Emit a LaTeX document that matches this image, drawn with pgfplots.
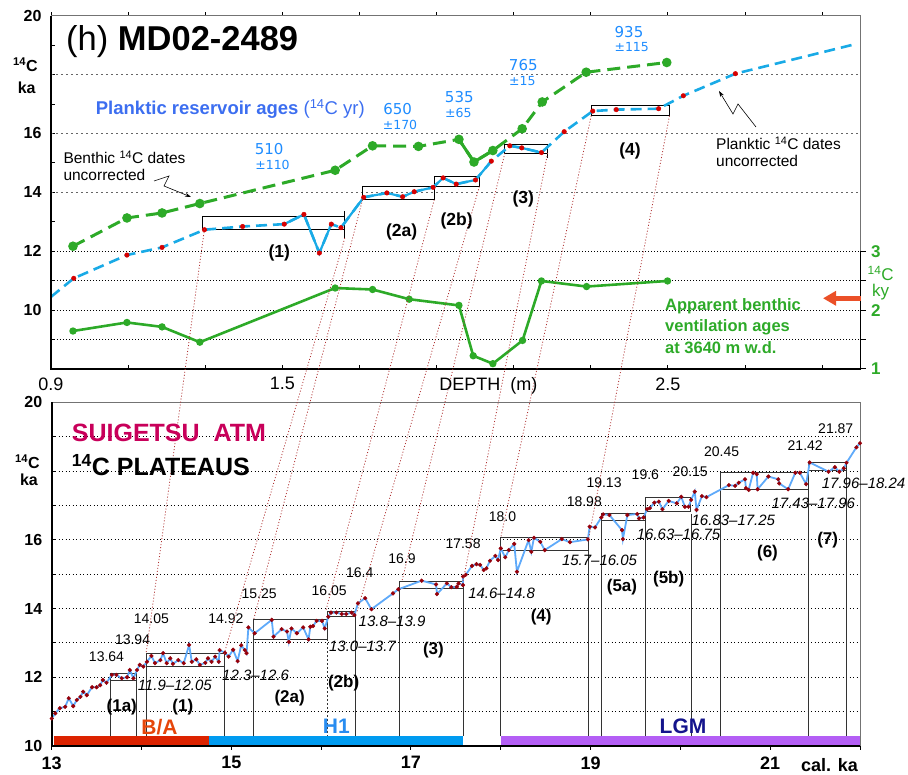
\documentclass[border=0pt]{standalone}
\usepackage{fontspec}
\setmainfont{Liberation Sans}
\newfontfamily\dv{DejaVu Sans}
\usepackage{pgfplots}
\usepackage{pgfplotstable}
\pgfplotsset{compat=1.18}
\usetikzlibrary{arrows.meta}
\newcommand{\fs}[1]{\fontsize{#1}{#1}\selectfont}
\definecolor{blueT}{RGB}{25,170,230}
\definecolor{greenT}{RGB}{45,170,40}
\definecolor{redD}{RGB}{215,0,0}
\definecolor{lineB}{RGB}{95,170,250}
\definecolor{dotB}{RGB}{150,0,10}
\definecolor{resvB}{RGB}{30,140,255}
\definecolor{plankB}{RGB}{60,110,240}
\definecolor{suiM}{RGB}{200,0,90}
\definecolor{connR}{RGB}{175,50,50}
\definecolor{barR}{RGB}{220,35,0}
\definecolor{barB}{RGB}{0,155,240}
\definecolor{barP}{RGB}{180,95,245}
\definecolor{txtBA}{RGB}{230,70,10}
\definecolor{txtH}{RGB}{40,140,240}
\definecolor{txtL}{RGB}{20,20,140}
\definecolor{arrO}{RGB}{235,80,40}

\pgfplotstableread{
x y
13.00 10.80
13.04 10.95
13.09 11.10
13.15 11.14
13.19 11.39
13.24 11.16
13.28 11.34
13.32 11.43
13.35 11.58
13.39 11.48
13.45 11.71
13.50 11.71
13.54 11.77
13.57 11.92
13.61 11.84
13.67 12.07
13.72 12.07
13.78 11.97
13.84 12.00
13.87 12.21
13.91 11.97
13.95 12.21
13.98 12.36
14.02 12.31
14.06 12.45
14.11 12.62
14.15 12.41
14.21 12.50
14.24 12.70
14.28 12.41
14.32 12.55
14.35 12.39
14.41 12.50
14.47 12.41
14.53 12.94
14.56 12.45
14.61 12.52
14.65 12.36
14.71 12.42
14.74 12.55
14.78 12.45
14.82 12.60
14.86 12.45
14.87 12.79
14.93 12.71
14.97 12.60
15.02 12.80
15.07 12.47
15.11 12.93
15.15 12.79
15.17 12.70
15.19 13.45
15.26 13.28
15.45 13.67
15.47 13.18
15.56 13.40
15.62 13.33
15.64 13.03
15.67 13.42
15.73 13.28
15.80 13.45
15.86 13.10
15.88 13.47
15.91 13.49
15.95 13.64
16.01 13.64
16.04 13.42
16.08 13.76
16.11 13.88
16.17 13.88
16.23 13.84
16.28 13.84
16.34 13.88
16.37 13.81
16.41 14.15
16.49 14.30
16.56 13.98
16.80 14.44
16.86 14.56
17.12 14.81
17.28 14.70
17.29 14.42
17.40 14.73
17.45 14.62
17.51 14.63
17.53 14.73
17.58 14.68
17.58 14.93
17.61 14.98
17.68 15.24
17.73 15.29
17.77 15.27
17.81 15.12
17.84 15.17
17.88 15.39
17.94 15.53
17.97 15.41
18.00 15.75
18.05 15.49
18.09 15.70
18.15 15.88
18.18 15.07
18.31 15.99
18.34 15.65
18.37 16.06
18.44 15.94
18.49 15.70
18.68 16.02
18.77 15.93
18.97 16.01
18.99 16.38
19.05 16.36
19.12 16.65
19.14 16.74
19.21 16.72
19.35 16.28
19.36 16.02
19.41 16.72
19.52 16.75
19.54 16.62
19.59 16.65
19.63 16.89
19.66 16.92
19.71 17.08
19.76 17.11
19.80 16.89
19.87 17.13
19.96 17.06
20.01 17.25
20.05 16.96
20.09 16.96
20.12 17.16
20.16 17.40
20.18 16.87
20.24 17.27
20.29 17.24
20.54 17.59
20.61 17.57
20.65 17.66
20.72 17.76
20.73 17.50
20.76 17.45
20.81 17.95
20.85 17.91
20.86 17.47
20.98 17.84
21.09 17.76
21.10 17.64
21.20 17.47
21.28 17.95
21.33 17.95
21.40 17.62
21.44 18.25
21.65 17.98
21.72 18.11
21.77 17.98
21.82 18.08
21.85 18.24
21.96 18.69
22.00 18.81
}\caldata

\begin{document}
\begin{tikzpicture}
\useasboundingbox (0,0) rectangle (908pt,775pt);

%================ TOP PANEL (depth) =================
\begin{axis}[
  at={(51pt,406pt)}, anchor=south west, scale only axis,
  width=809.7pt, height=353.3pt,
  xmin=0.9, xmax=3.0, ymin=8, ymax=20,
  axis line style={draw=none},
  xtick={0.9,1.1,1.3,1.5,1.7,1.9,2.1,2.3,2.5,2.7,2.9},
  xticklabels={0.9,,,1.5,,,,,2.5,,},
  xtick pos=left, ytick pos=left,
  ytick={8,9,10,11,12,13,14,15,16,17,18,19,20},
  yticklabels={,,10,,12,,14,,16,,,,20},
  major tick length=4pt,
  tick style={black, line width=0.9pt},
  xticklabel style={font=\fs{18}, yshift=-5pt},
  yticklabel style={font=\fs{16}\bfseries, xshift=-6pt},
  /pgf/number format/assume math mode=true,
  clip=false,
]
% grid
\pgfplotsinvokeforeach{9,10,11,12}{
  \draw[black, line width=0.9pt, dash pattern=on 1pt off 2pt] (axis cs:0.9,#1) -- (axis cs:3.0,#1);}
\pgfplotsinvokeforeach{14,16,18}{
  \draw[black!60, line width=1.2pt, dash pattern=on 2pt off 3pt] (axis cs:0.9,#1) -- (axis cs:3.0,#1);}
% top ticks (outward)
\pgfplotsinvokeforeach{0.9,1.1,1.3,1.5,1.7,1.9,2.1,2.3,2.5,2.7,2.9}{
  \draw[black, line width=0.9pt] (axis cs:#1,20) -- (axis cs:#1,20.14);}
% boxes
\draw[black, line width=1pt] (axis cs:1.293,12.75) rectangle (axis cs:1.662,13.19);
\draw[black, line width=1pt] (axis cs:1.662,13.35) -- (axis cs:1.662,12.45);
\draw[black, line width=1pt] (axis cs:1.708,13.75) rectangle (axis cs:1.894,14.21);
\draw[black, line width=1pt] (axis cs:1.895,14.20) rectangle (axis cs:2.011,14.54);
\draw[black, line width=1pt] (axis cs:2.077,15.33) rectangle (axis cs:2.188,15.63);
\draw[black, line width=1pt] (axis cs:2.188,15.33) -- (axis cs:2.188,15.15);
\draw[black, line width=1pt] (axis cs:2.301,16.60) rectangle (axis cs:2.504,16.96);
% benthic uncorrected (green dashed)
\addplot[greenT, line width=3pt, dash pattern=on 13pt off 7pt, mark=*, mark size=3.2pt, mark options={solid}] coordinates {
(0.957,12.17)(1.097,13.13)(1.188,13.30)(1.286,13.62)(1.637,14.75)(1.734,15.58)(1.853,15.56)(1.958,15.80)(1.997,15.03)(2.046,15.42)(2.122,16.16)(2.174,17.07)(2.288,18.08)(2.497,18.41)};
\addplot[greenT, line width=3pt] coordinates {(1.958,15.80)(1.997,15.03)(2.046,15.42)};
% planktic (blue dashed)
\addplot[blueT, line width=2.6pt, dash pattern=on 11pt off 6pt] coordinates {
(0.90,10.45)(0.959,11.08)(1.097,11.87)(1.188,12.13)(1.298,12.73)(1.397,12.84)(1.505,12.92)(1.556,13.25)(1.596,11.94)(1.627,12.92)(1.652,12.80)(1.711,13.83)(1.771,13.98)(1.812,13.85)(1.842,14.02)(1.891,14.17)(1.917,14.49)(1.951,14.28)(2.001,14.42)(2.042,15.06)(2.090,15.58)(2.121,15.51)(2.172,15.35)(2.231,16.06)(2.305,16.76)(2.366,16.81)(2.476,16.84)(2.540,17.28)(2.675,18.03)(2.985,19.03)};
\addplot[blueT, line width=2.2pt] coordinates {(1.505,12.92)(1.556,13.25)(1.596,11.94)(1.627,12.92)};
\addplot[blueT, line width=2.2pt] coordinates {(1.652,12.80)(1.711,13.83)(1.771,13.98)(1.812,13.85)(1.842,14.02)(1.891,14.17)(1.917,14.49)(1.951,14.28)(2.001,14.42)(2.042,15.06)};
\addplot[blueT, line width=2.2pt] coordinates {(2.090,15.58)(2.121,15.51)(2.172,15.35)};
\addplot[only marks, mark=*, mark size=2.3pt, color=redD] coordinates {
(0.959,11.08)(1.097,11.87)(1.188,12.13)(1.298,12.73)(1.397,12.84)(1.505,12.92)(1.556,13.25)(1.596,11.94)(1.627,12.92)(1.652,12.80)(1.711,13.83)(1.771,13.98)(1.812,13.85)(1.842,14.02)(1.891,14.17)(1.917,14.49)(1.951,14.28)(2.001,14.42)(2.042,15.06)(2.090,15.58)(2.121,15.51)(2.172,15.35)(2.231,16.06)(2.305,16.76)(2.366,16.81)(2.476,16.84)(2.540,17.28)(2.675,18.03)};
% spines
\draw[black!55, line width=1pt] (rel axis cs:0,1) -- (rel axis cs:1,1) -- (axis cs:3.0,12);
\draw[black, line width=1.5pt] (axis cs:3.0,12) -- (rel axis cs:1,0);
\draw[black, line width=2.2pt] (rel axis cs:0,1) -- (rel axis cs:0,0) -- (rel axis cs:1,0);
% connector start points
\coordinate (a1) at (axis cs:1.298,12.75);
\coordinate (a2) at (axis cs:1.662,12.45);
\coordinate (a3) at (axis cs:1.708,13.75);
\coordinate (a4) at (axis cs:1.894,13.75);
\coordinate (a5) at (axis cs:2.011,14.20);
\coordinate (a6) at (axis cs:2.077,15.33);
\coordinate (a7) at (axis cs:2.188,15.33);
\coordinate (a8) at (axis cs:2.301,16.60);
\coordinate (a9) at (axis cs:2.504,16.60);
\end{axis}

% right scale: benthic ventilation ages (14C ky)
\begin{axis}[
  at={(51pt,406pt)}, anchor=south west, scale only axis,
  width=809.7pt, height=353.3pt,
  xmin=0.9, xmax=3.0, ymin=1, ymax=7,
  axis x line=none, axis y line*=right,
  axis line style={draw=none},
  ytick={1,1.5,2,2.5,3}, yticklabels={1,,2,,3},
  tick align=outside, major tick length=5pt,
  tick style={black, line width=1pt},
  yticklabel style={font=\fs{17}\bfseries, text=greenT, xshift=2pt},
  clip=false,
]
\addplot[greenT, line width=2.6pt, mark=*, mark size=2.3pt] coordinates {
(0.957,1.645)(1.097,1.79)(1.188,1.715)(1.286,1.455)(1.637,2.375)(1.734,2.35)(1.829,2.185)(1.958,2.08)(1.995,1.225)(2.046,1.09)(2.123,1.485)(2.172,2.495)(2.289,2.40)(2.499,2.495)};
\end{axis}

%================ BOTTOM PANEL (cal ka) =================
\begin{axis}[
  at={(51.7pt,29pt)}, anchor=south west, scale only axis,
  width=808.3pt, height=343.7pt,
  xmin=13, xmax=22, ymin=10, ymax=20,
  axis line style={draw=none},
  xtick={13,14,15,16,17,18,19,20,21,22},
  xticklabels={13,,15,,17,,19,,21,},
  xtick pos=left, ytick pos=left,
  ytick={10,11,12,13,14,15,16,17,18,19,20},
  yticklabels={10,,12,,14,,16,,,,20},
  major tick length=4pt,
  tick style={black, line width=0.9pt},
  x tick style={yshift=-4pt},
  xticklabel style={font=\fs{18}\bfseries, yshift=-7pt},
  yticklabel style={font=\fs{16}\bfseries, xshift=-6pt},
  /pgf/number format/assume math mode=true,
  clip=false,
]
\pgfplotsinvokeforeach{11,12,13,14,15,16,17,18,19}{
  \draw[black, line width=0.9pt, dash pattern=on 1pt off 2.5pt] (axis cs:13,#1) -- (axis cs:22,#1);}
% period bars
\fill[barR] (axis cs:13.03,10) rectangle (axis cs:14.755,10.28);
\fill[barB] (axis cs:14.755,10) rectangle (axis cs:17.577,10.28);
\fill[barP] (axis cs:18.0,10) rectangle (axis cs:22,10.28);
% plateau boxes
\tikzset{bx/.style={black!80, line width=0.9pt}}
\draw[bx] (axis cs:13.65,10.28) -- (axis cs:13.65,12.12) -- (axis cs:13.94,12.12) -- (axis cs:13.94,10.28);
\draw[bx] (axis cs:13.65,11.92) -- (axis cs:13.94,11.92);
\draw[bx] (axis cs:14.06,10.28) -- (axis cs:14.06,12.68) -- (axis cs:14.92,12.68) -- (axis cs:14.92,10.28);
\draw[bx] (axis cs:14.06,12.31) -- (axis cs:14.92,12.31);
\draw[bx] (axis cs:15.25,10.28) -- (axis cs:15.25,13.69) -- (axis cs:16.07,13.69) -- (axis cs:16.07,13.10);
\draw[bx] (axis cs:15.25,13.10) -- (axis cs:16.07,13.10);
\draw[black!80, line width=0.7pt, dash pattern=on 2pt off 2pt] (axis cs:16.07,13.10) -- (axis cs:16.07,10.28);
\draw[bx] (axis cs:16.07,13.78) -- (axis cs:16.07,13.91) -- (axis cs:16.38,13.91) -- (axis cs:16.38,10.28);
\draw[bx] (axis cs:16.07,13.78) -- (axis cs:16.38,13.78);
\draw[bx] (axis cs:16.87,10.28) -- (axis cs:16.87,14.80) -- (axis cs:17.58,14.80) -- (axis cs:17.58,10.28);
\draw[bx] (axis cs:16.87,14.57) -- (axis cs:17.58,14.57);
\draw[bx] (axis cs:18.00,10.28) -- (axis cs:18.00,16.06) -- (axis cs:18.98,16.06) -- (axis cs:18.98,10.28);
\draw[bx] (axis cs:18.00,15.68) -- (axis cs:18.98,15.68);
\draw[bx] (axis cs:19.125,10.28) -- (axis cs:19.125,16.77) -- (axis cs:19.61,16.77) -- (axis cs:19.61,10.28);
\draw[bx] (axis cs:19.125,16.57) -- (axis cs:19.61,16.57);
\draw[bx] (axis cs:19.61,17.24) -- (axis cs:20.11,17.24) -- (axis cs:20.11,16.83) -- (axis cs:19.61,16.83);
\draw[bx] (axis cs:19.61,16.77) -- (axis cs:19.61,17.24);
\draw[bx] (axis cs:20.125,16.75) -- (axis cs:20.125,10.28);
\draw[bx] (axis cs:20.45,10.28) -- (axis cs:20.45,17.96) -- (axis cs:21.43,17.96) -- (axis cs:21.43,10.28);
\draw[bx] (axis cs:20.45,17.45) -- (axis cs:21.43,17.45);
\draw[bx] (axis cs:21.43,18.01) -- (axis cs:21.43,18.26) -- (axis cs:21.85,18.26) -- (axis cs:21.85,10.28);
\draw[bx] (axis cs:21.43,18.01) -- (axis cs:21.85,18.01);
% data
\addplot[lineB, line width=1.8pt] table[x=x,y=y] {\caldata};
\addplot[only marks, mark=*, mark size=1.9pt, color=dotB] table[x=x,y=y] {\caldata};
% spines
\draw[black!55, line width=1pt] (rel axis cs:0,1) -- (rel axis cs:1,1) -- (rel axis cs:1,0);
\draw[black, line width=2.2pt] (rel axis cs:0,1) -- (rel axis cs:0,0) -- (rel axis cs:1,0);
% labels
\tikzset{nl/.style={font=\fs{14}, inner sep=0pt}, il/.style={font=\fs{15}\itshape, inner sep=0pt}, bl/.style={font=\fs{17}\bfseries, inner sep=0pt}}
\node[nl] at (axis cs:13.61,12.60) {13.64};
\node[nl] at (axis cs:13.90,13.08) {13.94};
\node[nl] at (axis cs:14.11,13.69) {14.05};
\node[nl] at (axis cs:14.94,13.69) {14.92};
\node[nl] at (axis cs:15.31,14.44) {15.25};
\node[nl] at (axis cs:16.09,14.51) {16.05};
\node[nl] at (axis cs:16.43,15.04) {16.4};
\node[nl] at (axis cs:16.90,15.46) {16.9};
\node[nl] at (axis cs:17.58,15.90) {17.58};
\node[nl] at (axis cs:18.02,16.67) {18.0};
\node[nl] at (axis cs:18.93,17.11) {18.98};
\node[nl] at (axis cs:19.15,17.66) {19.13};
\node[nl] at (axis cs:19.61,17.88) {19.6};
\node[nl] at (axis cs:20.11,17.98) {20.15};
\node[nl] at (axis cs:20.46,18.56) {20.45};
\node[nl] at (axis cs:21.39,18.73) {21.42};
\node[nl] at (axis cs:21.73,19.24) {21.87};
\node[il] at (axis cs:14.37,11.77) {11.9\textendash12.05};
\node[il] at (axis cs:15.27,12.07) {12.3\textendash12.6};
\node[il] at (axis cs:16.46,12.89) {13.0\textendash13.7};
\node[il] at (axis cs:16.79,13.64) {13.8\textendash13.9};
\node[il] at (axis cs:18.01,14.44) {14.6\textendash14.8};
\node[il] at (axis cs:19.10,15.39) {15.7\textendash16.05};
\node[il] at (axis cs:19.98,16.16) {16.63\textendash16.75};
\node[il] at (axis cs:20.59,16.58) {16.83\textendash17.25};
\node[il] at (axis cs:21.48,17.06) {17.43\textendash17.96};
\node[il] at (axis cs:22.04,17.64) {17.96\textendash18.24};
\node[bl] at (axis cs:13.78,11.14) {(1a)};
\node[bl] at (axis cs:14.46,11.14) {(1)};
\node[bl] at (axis cs:15.65,11.39) {(2a)};
\node[bl] at (axis cs:16.25,11.82) {(2b)};
\node[bl] at (axis cs:17.25,12.79) {(3)};
\node[bl] at (axis cs:18.45,13.76) {(4)};
\node[bl] at (axis cs:19.35,14.63) {(5a)};
\node[bl] at (axis cs:19.87,14.85) {(5b)};
\node[bl] at (axis cs:20.97,15.62) {(6)};
\node[bl] at (axis cs:21.64,16.00) {(7)};
\node[font=\fs{21}\bfseries, text=txtBA, inner sep=0pt] at (axis cs:14.2,10.55) {B/A};
\node[font=\fs{21}\bfseries, text=txtH, inner sep=0pt] at (axis cs:16.17,10.57) {H1};
\node[font=\fs{21}\bfseries, text=txtL, inner sep=0pt] at (axis cs:20.03,10.57) {LGM};
% connector end points
\coordinate (b1) at (axis cs:14.05,12.68);
\coordinate (b2) at (axis cs:14.92,12.68);
\coordinate (b3) at (axis cs:15.25,13.69);
\coordinate (b4) at (axis cs:16.05,13.91);
\coordinate (b5) at (axis cs:16.40,13.91);
\coordinate (b6) at (axis cs:16.90,14.80);
\coordinate (b7) at (axis cs:17.58,14.80);
\coordinate (b8) at (axis cs:18.00,16.06);
\coordinate (b9) at (axis cs:18.98,16.06);
\end{axis}

% dotted connectors
\foreach \i in {1,...,9}{
  \draw[connR, line width=0.8pt, dash pattern=on 1pt off 2pt] (a\i) -- (b\i);}

% free text, in pixel coordinates of the reference (y downward)
\begin{scope}[x=1pt, y=-1pt, yshift=775pt]
\node[anchor=west, inner sep=0pt, font=\fs{34.5}] at (66,41.7) {(h) \bfseries MD02-2489};
\node[inner sep=0pt, font=\fs{16}\bfseries] at (25.5,65) {\textsuperscript{14}C};
\node[inner sep=0pt, font=\fs{16}\bfseries] at (26.7,87.3) {ka};
\node[inner sep=0pt, font=\fs{16}\bfseries] at (27.5,461.7) {\textsuperscript{14}C};
\node[inner sep=0pt, font=\fs{16}\bfseries] at (29,480) {ka};
\node[anchor=west, inner sep=0pt, font=\fs{18.5}, text=plankB] at (95.7,109) {\bfseries Planktic reservoir ages \mdseries(\textsuperscript{14}C yr)};
\tikzset{rv/.style={inner sep=0pt, font=\dv\fs{15}, text=resvB}, rve/.style={inner sep=0pt, font=\dv\fs{12.5}, text=resvB}}
\node[rv] at (269.2,148.7) {510};   \node[rve] at (272.5,164.5) {±110};
\node[rv] at (397.7,108.7) {650}; \node[rve] at (400,124.5) {±170};
\node[rv] at (459.3,96.7) {535};  \node[rve] at (458.3,112.5) {±65};
\node[rv] at (523.3,65.5) {765};    \node[rve] at (522.3,81.3) {±15};
\node[rv] at (629,31.7) {935};    \node[rve] at (631.7,47.5) {±115};
\node[anchor=west, inner sep=0pt, font=\fs{15.5}] at (63.3,157.3) {Benthic \textsuperscript{14}C dates};
\node[anchor=west, inner sep=0pt, font=\fs{15.5}] at (63.3,174.7) {uncorrected};
\node[anchor=west, inner sep=0pt, font=\fs{15.5}] at (716,143.3) {Planktic \textsuperscript{14}C dates};
\node[anchor=west, inner sep=0pt, font=\fs{15.5}] at (716,161) {uncorrected};
\draw[-{Stealth[length=6pt,width=4pt]}, line width=0.6pt] (154,181) -- (169,176) -- (164,186) -- (191,197);
\draw[-{Stealth[length=6pt,width=4pt]}, line width=0.6pt] (756,127) -- (738,104) -- (733,114) -- (719,91);
\tikzset{tb/.style={inner sep=0pt, font=\fs{17.5}\bfseries}}
\node[tb] at (279.3,253.3) {(1)};
\node[tb] at (401.7,232.3) {(2a)};
\node[tb] at (456.7,221) {(2b)};
\node[tb] at (523.3,199) {(3)};
\node[tb] at (630,150.7) {(4)};
\node[anchor=west, inner sep=0pt, font=\fs{16.5}\bfseries, text=greenT] at (665,306.7) {Apparent benthic};
\node[anchor=west, inner sep=0pt, font=\fs{16.5}\bfseries, text=greenT] at (665,327.7) {ventilation ages};
\node[anchor=west, inner sep=0pt, font=\fs{16.5}\bfseries, text=greenT] at (665,347.7) {at 3640 m w.d.};
\node[inner sep=0pt, align=center, font=\fontsize{17}{16}\selectfont, text=greenT] at (880.7,283) {\textsuperscript{14}C\\ky};
\draw[arrO, line width=5pt, -{Triangle[length=13pt,width=14pt]}] (861,298.3) -- (823,298.3);
\node[inner sep=0pt, font=\fs{18}] at (488.3,386) {DEPTH\ \ (m)};
\node[anchor=east, inner sep=0pt, font=\fs{18}\bfseries] at (858,765) {cal. ka};
\node[anchor=west, inner sep=0pt, font=\fs{25}\bfseries, text=suiM] at (71.7,433.3) {SUIGETSU\ \ ATM};
\node[anchor=west, inner sep=0pt, font=\fs{25}\bfseries] at (71.7,465) {\textsuperscript{14}C PLATEAUS};
\end{scope}
\end{tikzpicture}
\end{document}
